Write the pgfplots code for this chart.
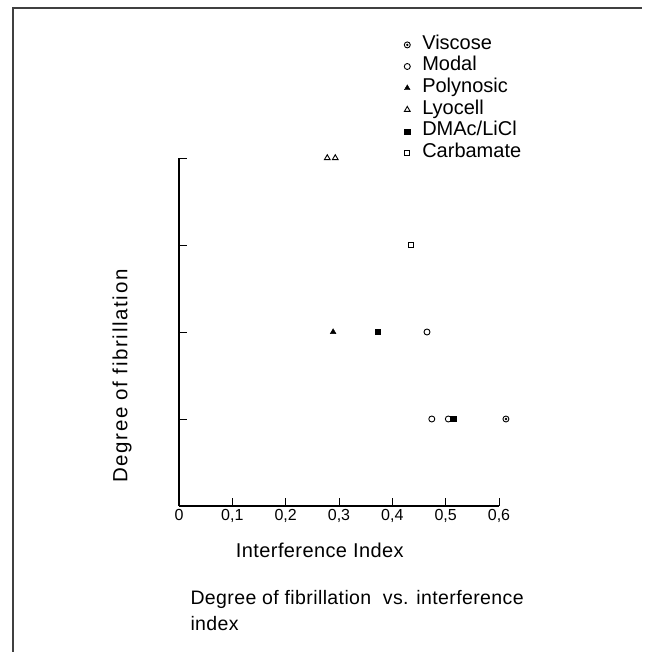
\documentclass[border=0pt]{standalone}
\usepackage{fontspec}
\setmainfont{Liberation Sans}
\newfontfamily\widefont{Liberation Sans}[LetterSpace=8]
\newfontfamily\midfont{Liberation Sans}[LetterSpace=2]
\usepackage{pgfplots}
\pgfplotsset{compat=1.18}
\pgfdeclareplotmark{odot}{%
  \pgfpathcircle{\pgfpointorigin}{\pgfplotmarksize}\pgfusepathqstroke
  \pgfpathcircle{\pgfpointorigin}{0.45\pgfplotmarksize}\pgfusepathqfill}
\begin{document}
\begin{tikzpicture}
\useasboundingbox (0,0) rectangle (648pt,-652pt);
\draw[line width=1.6pt, black!75] (13pt,-652pt) -- (13pt,-8pt) -- (642pt,-8pt);
\begin{axis}[
  at={(179pt,-506pt)}, anchor=south west,
  scale only axis, width=320pt, height=348pt,
  xmin=0, xmax=0.6, ymin=0, ymax=4,
  axis x line*=bottom, axis y line*=left,
  axis line style={-, line width=1.3pt},
  clip=false,
  xtick={0,0.1,0.2,0.3,0.4,0.5,0.6},
  xticklabels={0,{0,1},{0,2},{0,3},{0,4},{0,5},{0,6}},
  ytick={1,2,3,4}, yticklabels={},
  tick align=inside, major tick length=8pt,
  tick style={line width=1pt, black},
  xticklabel style={font=\fontsize{16}{18}\selectfont},
  xlabel={Interference Index}, ylabel={Degree of fibrillation},
  xlabel style={font=\midfont\fontsize{20}{22}\selectfont, at={(axis description cs:0.44,-0.127)}, anchor=center},
  ylabel style={font=\widefont\fontsize{20.5}{22}\selectfont, at={(axis description cs:-0.178,0.373)}, anchor=center},
  legend style={at={(axis description cs:0.694,1.35)}, anchor=north west,
    draw=none, fill=none, font=\fontsize{20}{22}\selectfont,
    row sep=4.6pt, inner sep=0pt,
    nodes={inner sep=0pt, text height=13pt, text depth=4pt}},
  legend cell align=left,
  legend image code/.code={\path[draw=none] (0pt,0pt) (21pt,0pt);\draw[mark repeat=2,mark phase=2,#1] plot coordinates {(0pt,0pt)(6pt,0pt)(12pt,0pt)};},
]
\addplot[only marks, mark=odot, mark size=3pt, line width=0.9pt] coordinates {(0.613,1)};
\addlegendentry{Viscose}
\addplot[only marks, mark=o, mark size=3pt, line width=0.9pt] coordinates {(0.465,2) (0.474,1) (0.505,1)};
\addlegendentry{Modal}
\addplot[only marks, mark=triangle*, mark size=3.3pt] coordinates {(0.289,2)};
\addlegendentry{Polynosic}
\addplot[only marks, mark=triangle, mark size=3.3pt, line width=0.9pt] coordinates {(0.278,4) (0.293,4)};
\addlegendentry{Lyocell}
\addplot[only marks, mark=square*, mark size=2.6pt] coordinates {(0.373,2) (0.514,1)};
\addlegendentry{DMAc/LiCl}
\addplot[only marks, mark=square, mark size=2.6pt, line width=0.9pt] coordinates {(0.435,3)};
\addlegendentry{Carbamate}
\end{axis}
\node[anchor=base west, font=\midfont\fontsize{19.5}{22}\selectfont] at (187pt,-604pt) {Degree of fibrillation\ \ vs. interference};
\node[anchor=base west, font=\midfont\fontsize{19.5}{22}\selectfont] at (187pt,-630pt) {index};
\end{tikzpicture}
\end{document}
